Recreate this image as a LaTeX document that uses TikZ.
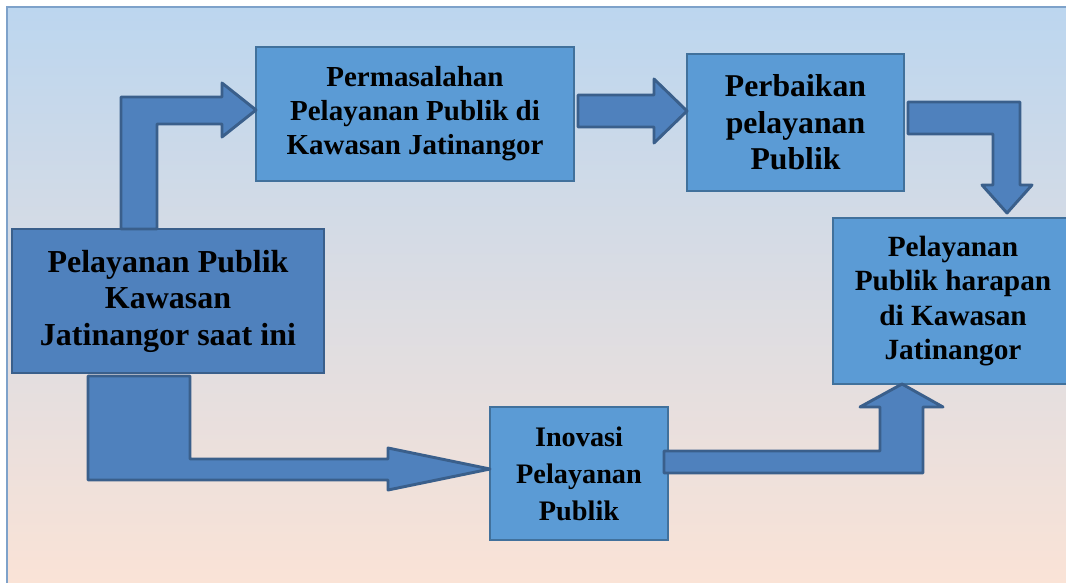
\documentclass[tikz,border=0pt]{standalone}
\usepackage{fontspec}
\setmainfont{Liberation Serif}
\usepackage{tikz}

\definecolor{boxblue}{HTML}{5B9BD5}
\definecolor{boxline}{HTML}{41719C}
\definecolor{darkblue}{HTML}{4F81BD}
\definecolor{darkline}{HTML}{3A5F8B}
\definecolor{skyblue}{HTML}{BCD6EF}
\definecolor{peach}{HTML}{FBE3D6}
\definecolor{frameline}{HTML}{7EA2CA}

\tikzset{
  box/.style={rectangle, draw=boxline, fill=boxblue, line width=1.5pt, anchor=north west,
    align=center, inner sep=0pt, outer sep=0pt},
  blockarrow/.style={draw=darkline, fill=darkblue, line width=2.2pt, line join=round},
}

\begin{document}
\begin{tikzpicture}[x=0.75pt, y=-0.75pt]
  \useasboundingbox (0,0) rectangle (1066,582);

  % Draw the background
  \draw[frameline, line width=2pt, top color=skyblue, bottom color=peach] (7,7) rectangle (1075,592);

  % Draw the boxes
  \node[box, draw=darkline, fill=darkblue, minimum width=234pt, minimum height=108pt,
    font=\fontsize{24}{27.4}\selectfont\bfseries] (saatini) at (12,229)
    {Pelayanan Publik\\ Kawasan\\ Jatinangor saat ini};
  \node[box, minimum width=238.5pt, minimum height=100.5pt,
    font=\fontsize{21.75}{25.5}\selectfont\bfseries] (masalah) at (256,47)
    {Permasalahan\\ Pelayanan Publik di\\ Kawasan Jatinangor};
  \node[box, minimum width=162.75pt, minimum height=102.75pt,
    font=\fontsize{23.8}{27.4}\selectfont\bfseries] (perbaikan) at (687,54)
    {Perbaikan\\ pelayanan\\ Publik};
  \node[box, minimum width=180pt, minimum height=124.5pt,
    font=\fontsize{22}{25.6}\selectfont\bfseries] (harapan) at (833,218)
    {Pelayanan\\ Publik harapan\\ di Kawasan\\ Jatinangor};
  \node[box, minimum width=133.5pt, minimum height=99.75pt,
    font=\fontsize{21.2}{27.8}\selectfont\bfseries] (inovasi) at (490,407)
    {Inovasi\\ Pelayanan\\ Publik};

  % Draw the block arrows
  \draw[blockarrow] (saatini.north -| 121,0) -- (121,97) -- (222,97) -- (222,83)
    -- (masalah.west |- 0,110) -- (222,137) -- (222,124) -- (157,124) -- (saatini.north -| 157,0) -- cycle;
  \draw[blockarrow] (578,95) -- (654,95) -- (654,79) -- (perbaikan.west |- 0,111)
    -- (654,143) -- (654,127) -- (578,127) -- cycle;
  \draw[blockarrow] (908,102) -- (1020,102) -- (1020,185) -- (1032,185)
    -- (1007,213) -- (982,185) -- (993,185) -- (993,134) -- (908,134) -- cycle;
  \draw[blockarrow] (88,376) -- (190,376) -- (190,459) -- (388,459) -- (388,448)
    -- (inovasi.west |- 0,469) -- (388,490) -- (388,480) -- (88,480) -- cycle;
  \draw[blockarrow] (664,451) -- (880,451) -- (880,407) -- (860,407)
    -- (harapan.south -| 902,0) -- (943,407) -- (923,407) -- (923,473) -- (664,473) -- cycle;
\end{tikzpicture}
\end{document}
